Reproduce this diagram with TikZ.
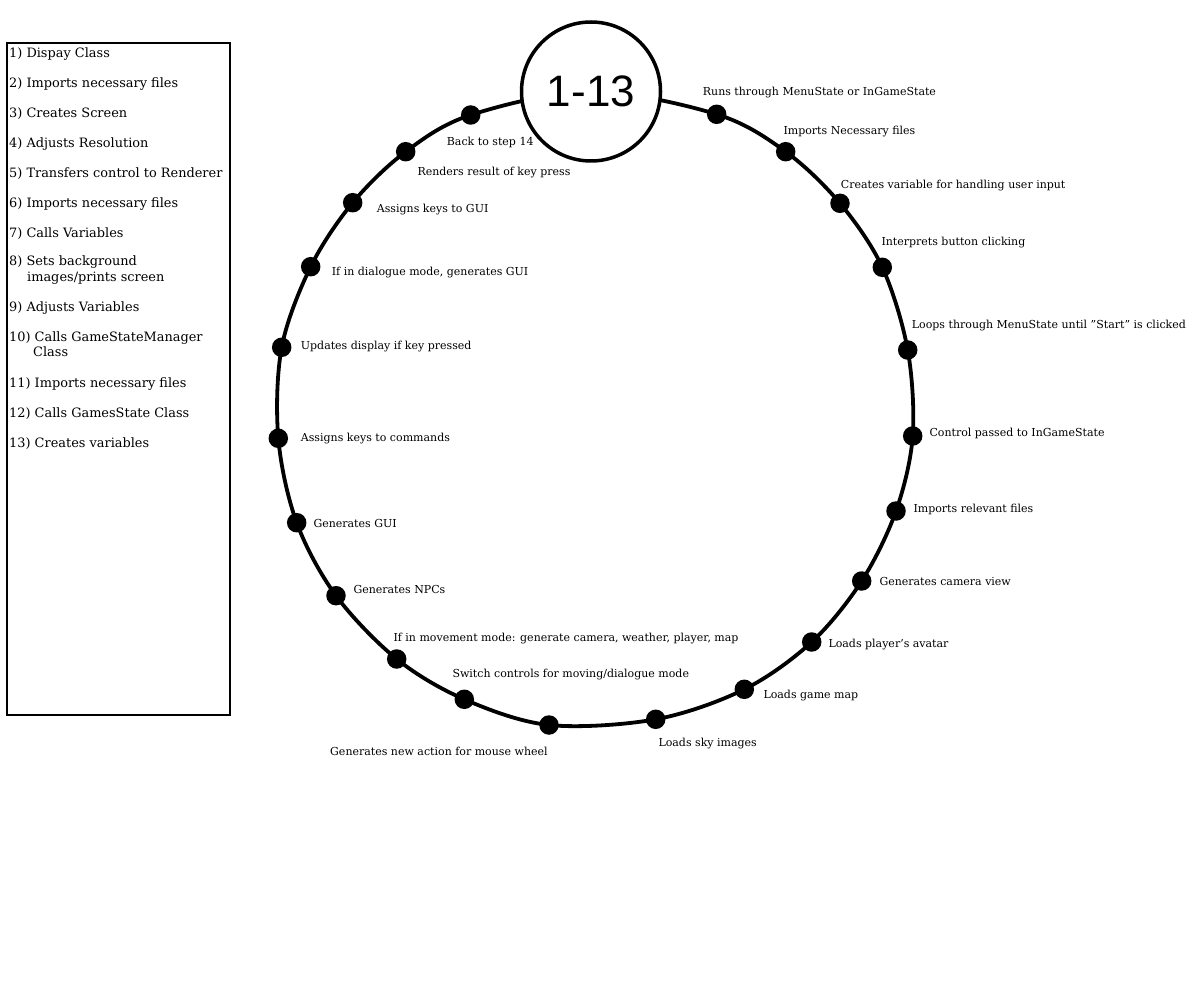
\documentclass[tikz,border=0pt]{standalone}
\usepackage{fontspec}
\setmainfont{DejaVu Serif}
\newfontfamily\numfont{Liberation Sans}
\begin{document}
\begin{tikzpicture}[x=1pt,y=-1pt,
  ring/.style={line width=3.8pt},
  dot/.style={circle,fill=black,inner sep=0pt,minimum size=19.5pt},
  lbl/.style={anchor=base west,inner sep=0pt,font=\fontsize{11}{13}\selectfont},
  item/.style={anchor=base west,inner sep=0pt,font=\fontsize{12.9}{15}\selectfont}]
\useasboundingbox (0,0) rectangle (1200,1000);
\fill[white] (0,0) rectangle (1200,1000);

% legend box
\node[draw,line width=2pt,minimum width=223pt,minimum height=672pt,inner sep=0pt,anchor=north west] (legend) at (6,42) {};
\node[item] (i1) at (9,57.5) {1) Dispay Class};
\node[item] (i2) at (9,87.5) {2) Imports necessary files};
\node[item] (i3) at (9,117.5) {3) Creates Screen};
\node[item] (i4) at (9,147.5) {4) Adjusts Resolution};
\node[item] (i5) at (9,177.5) {5) Transfers control to Renderer};
\node[item] (i6) at (9,207.5) {6) Imports necessary files};
\node[item] (i7) at (9,237.5) {7) Calls Variables};
\node[item] (i8) at (9,266) {8) Sets background};
\node[item] (i8b) at (27,282) {images/prints screen};
\node[item] (i9) at (9,311.5) {9) Adjusts Variables};
\node[item] (i10) at (9,341.5) {10) Calls GameStateManager};
\node[item] (i10b) at (33,357) {Class};
\node[item] (i11) at (9,387.5) {11) Imports necessary files};
\node[item] (i12) at (9,417.5) {12) Calls GamesState Class};
\node[item] (i13) at (9,447) {13) Creates variables};

% ring points
\coordinate (c0) at (591,91.5);
\coordinate (p1) at (716.7,114.3);
\coordinate (p2) at (785.7,151.7);
\coordinate (p3) at (840,203.3);
\coordinate (p4) at (882.3,267.3);
\coordinate (p5) at (907.7,350);
\coordinate (p6) at (912.7,436);
\coordinate (p7) at (896,511);
\coordinate (p8) at (861.7,581);
\coordinate (p9) at (811.7,642);
\coordinate (p10) at (744.3,689.3);
\coordinate (p11) at (655.7,719.3);
\coordinate (p12) at (549,725);
\coordinate (p13) at (464.3,699.3);
\coordinate (p14) at (396.7,659);
\coordinate (p15) at (336,595.7);
\coordinate (p16) at (296.7,522.7);
\coordinate (p17) at (278.3,438.3);
\coordinate (p18) at (281.7,347.3);
\coordinate (p19) at (310.7,266.7);
\coordinate (p20) at (352.7,202.7);
\coordinate (p21) at (405.7,151.7);
\coordinate (p22) at (470.7,115);

\draw[ring] plot[smooth cycle,tension=0.55] coordinates {(c0) (p1) (p2) (p3) (p4) (p5) (p6) (p7) (p8) (p9) (p10) (p11) (p12) (p13) (p14) (p15) (p16) (p17) (p18) (p19) (p20) (p21) (p22)};

\node[circle,draw,line width=3.5pt,fill=white,minimum size=139pt,inner sep=0pt,font=\numfont\fontsize{44}{48}\selectfont] (c) at (c0) {1-13};

\foreach \i in {1,...,22} {\node[dot] (d\i) at (p\i) {};}

% labels
\node[lbl] (l1) at (702.7,96) {Runs through MenuState or InGameState};
\node[lbl] (l2) at (783.3,135) {Imports Necessary files};
\node[lbl] (l3) at (840.7,188.3) {Creates variable for handling user input};
\node[lbl] (l4) at (881.3,246) {Interprets button clicking};
\node[lbl] (l5) at (911.7,328.3) {Loops through MenuState until \symbol{34}Start\symbol{34} is clicked};
\node[lbl] (l6) at (929.3,436.7) {Control passed to InGameState};
\node[lbl] (l7) at (913.3,512.7) {Imports relevant files};
\node[lbl] (l8) at (879.3,585) {Generates camera view};
\node[lbl] (l9) at (828.3,647.3) {Loads player\symbol{39}s avatar};
\node[lbl] (l10) at (763.3,698.3) {Loads game map};
\node[lbl] (l11) at (658.3,746.7) {Loads sky images};
\node[lbl] (l12) at (330,755) {Generates new action for mouse wheel};
\node[lbl] (l13) at (452.3,677.3) {Switch controls for moving/dialogue mode};
\node[lbl] (l14) at (393.3,641.7) {If in movement mode: generate camera, weather, player, map};
\node[lbl] (l15) at (353.3,593) {Generates NPCs};
\node[lbl] (l16) at (313.3,527.7) {Generates GUI};
\node[lbl] (l17) at (300.7,441.7) {Assigns keys to commands};
\node[lbl] (l18) at (300.7,350) {Updates display if key pressed};
\node[lbl] (l19) at (331.7,276) {If in dialogue mode, generates GUI};
\node[lbl] (l20) at (376.7,212.7) {Assigns keys to GUI};
\node[lbl] (l21) at (417.3,176) {Renders result of key press};
\node[lbl] (l22) at (446.7,145.7) {Back to step 14};
\end{tikzpicture}
\end{document}
